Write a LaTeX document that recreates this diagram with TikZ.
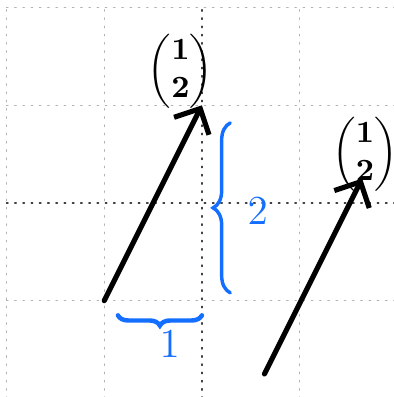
\documentclass[tikz,border=0pt]{standalone}
\usepackage{amsmath}
\usetikzlibrary{arrows.meta,decorations.pathreplacing}
\definecolor{penblue}{RGB}{20,110,255}
\begin{document}
\begin{tikzpicture}[>={Straight Barb[length=2mm,width=4mm]}, line cap=round]
                \useasboundingbox (-2.067,-1.986) rectangle (1.965,2.078);
                % Grid
                \draw[gray!60, dotted, thin] (-2,-2) grid (2,2);
                \draw[black!75, dotted] (-2,0) -- (2,0);
                \draw[black!75, dotted] (0,-2) -- (0,2);
                % Nodes
                \coordinate (o1) at (-1,-1);
                \coordinate (v1) at (0,1);
                \coordinate (o2) at (0.64,-1.75);
                \coordinate (v2) at (1.64,0.25);
                \node[font=\small] (l1) at (-0.22,1.35) {$\boldsymbol{\begin{pmatrix}1\\2\end{pmatrix}}$};
                \node[font=\small] (l2) at (1.67,0.5) {$\boldsymbol{\begin{pmatrix}1\\2\end{pmatrix}}$};
                \node[penblue, font=\large] (dy) at (0.57,-0.08) {$2$};
                \node[penblue, font=\large] (dx) at (-0.33,-1.45) {$1$};
                % Edges
                \draw[->, line width=1.5pt] (o1) -- (v1);
                \draw[->, line width=1.5pt] (o2) -- (v2);

                \draw[penblue, line width=1pt, decorate, decoration={brace, amplitude=5pt}] (0.29,-0.92) -- (0.29,0.82);
                \draw[penblue, line width=1.3pt, decorate, decoration={brace, amplitude=3pt}] (0,-1.15) -- (-0.86,-1.15);
            \end{tikzpicture}
\end{document}
